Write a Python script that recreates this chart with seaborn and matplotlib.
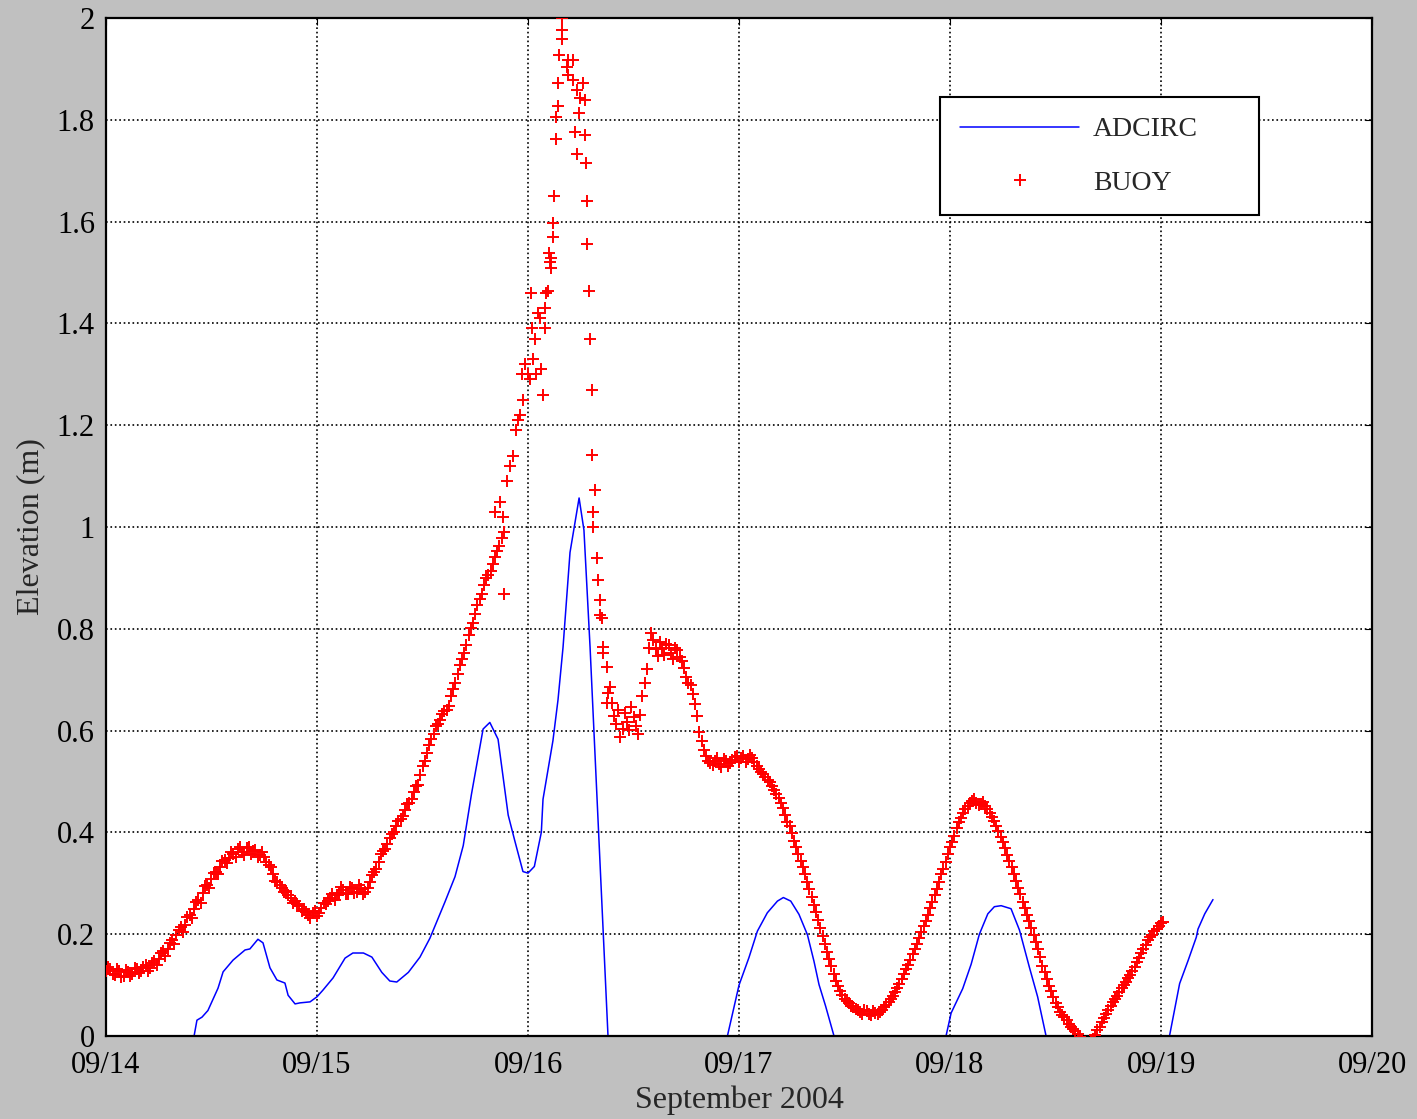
import numpy as np
import pandas as pd
import matplotlib
matplotlib.use('Agg')
import matplotlib.pyplot as plt
import matplotlib.dates as mdates
from matplotlib.lines import Line2D
from matplotlib.ticker import FuncFormatter
import seaborn as sns

start = pd.Timestamp('2004-09-14')

# ADCIRC model, time in days after 09/14 00:00
adcirc_day = [0.40, 0.431, 0.455, 0.483, 0.531, 0.555, 0.602, 0.659, 0.682, 0.720,
              0.744, 0.777, 0.810, 0.848, 0.863, 0.896, 0.919, 0.967, 1.0, 1.028,
              1.076, 1.133, 1.17, 1.22, 1.26, 1.307, 1.345, 1.378, 1.433, 1.488,
              1.535, 1.606, 1.654, 1.693, 1.732, 1.787, 1.819, 1.858, 1.906, 1.937,
              1.976, 2.0, 2.03, 2.063, 2.071, 2.118, 2.142, 2.166, 2.199, 2.242,
              2.265, 2.294, 2.379, 2.42, 2.55, 2.7, 2.85, 2.945, 3.0, 3.047,
              3.087, 3.134, 3.182, 3.21, 3.245, 3.284, 3.324, 3.355, 3.379, 3.41,
              3.45, 3.55, 3.7, 3.85, 3.981, 4.005, 4.06, 4.1, 4.139, 4.179,
              4.21, 4.242, 4.289, 4.329, 4.376, 4.415, 4.455, 4.6, 4.8, 4.95,
              5.04, 5.088, 5.128, 5.167, 5.175, 5.207, 5.246]
adcirc_elev = [-0.04, 0.031, 0.037, 0.05, 0.094, 0.126, 0.149, 0.169, 0.171, 0.19,
               0.183, 0.134, 0.11, 0.104, 0.08, 0.063, 0.065, 0.067, 0.077, 0.09,
               0.114, 0.153, 0.163, 0.163, 0.155, 0.125, 0.108, 0.106, 0.125, 0.155,
               0.192, 0.263, 0.313, 0.374, 0.475, 0.603, 0.616, 0.583, 0.434, 0.384,
               0.323, 0.32, 0.333, 0.40, 0.465, 0.58, 0.66, 0.764, 0.95, 1.057,
               0.994, 0.764, 0.0, -0.15, -0.32, -0.35, -0.2, 0.0, 0.10, 0.154,
               0.206, 0.242, 0.265, 0.272, 0.265, 0.239, 0.199, 0.147, 0.101, 0.059,
               0.0, -0.2, -0.3, -0.2, 0.0, 0.045, 0.093, 0.141, 0.2, 0.24,
               0.254, 0.256, 0.25, 0.208, 0.135, 0.077, 0.0, -0.25, -0.25, -0.08,
               0.0, 0.103, 0.148, 0.194, 0.21, 0.24, 0.268]

# BUOY, every 30 min starting 09/13 23:30
buoy_a_elev = [0.138, 0.128, 0.131, 0.119, 0.127, 0.118, 0.126, 0.121, 0.132, 0.127,
               0.139, 0.134, 0.148, 0.151, 0.166, 0.171, 0.188, 0.198, 0.214, 0.219,
               0.238, 0.249, 0.268, 0.281, 0.296, 0.308, 0.322, 0.331, 0.346, 0.349,
               0.358, 0.367, 0.361, 0.369, 0.358, 0.366, 0.355, 0.351, 0.336, 0.318,
               0.302, 0.291, 0.284, 0.272, 0.266, 0.255, 0.249, 0.238, 0.242, 0.236,
               0.251, 0.259, 0.272, 0.268, 0.281, 0.286, 0.279, 0.291, 0.283, 0.289,
               0.282, 0.302, 0.322, 0.341, 0.364, 0.377, 0.396, 0.412, 0.427, 0.443,
               0.458, 0.479, 0.493, 0.531, 0.556, 0.583, 0.609, 0.621, 0.638, 0.648,
               0.681, 0.712, 0.741, 0.768, 0.801, 0.829, 0.858, 0.887, 0.906, 0.928,
               0.952, 0.978]
# BUOY, every 30 min starting 09/13 23:45
buoy_a2_elev = [0.124, 0.135, 0.122, 0.131, 0.116, 0.129, 0.117, 0.134, 0.124, 0.136,
                0.128, 0.143, 0.139, 0.163, 0.158, 0.183, 0.181, 0.209, 0.204, 0.233,
                0.231, 0.263, 0.262, 0.294, 0.291, 0.321, 0.318, 0.344, 0.339, 0.361,
                0.352, 0.371, 0.356, 0.372, 0.363, 0.352, 0.362, 0.341, 0.331, 0.305,
                0.296, 0.282, 0.276, 0.262, 0.259, 0.246, 0.243, 0.231, 0.245, 0.242,
                0.262, 0.266, 0.279, 0.276, 0.292, 0.278, 0.293, 0.281, 0.296, 0.279,
                0.291, 0.316, 0.329, 0.357, 0.368, 0.389, 0.401, 0.423, 0.432, 0.455,
                0.466, 0.491, 0.512, 0.541, 0.572, 0.594, 0.612, 0.633, 0.641, 0.667,
                0.694, 0.729, 0.752, 0.787, 0.812, 0.846, 0.869, 0.899, 0.913, 0.941,
                0.962, 0.99]

# BUOY around the surge peak, time in days after 09/14 00:00
spike_day = [1.844, 1.867, 1.882, 1.885, 1.9, 1.915, 1.929, 1.943, 1.953, 1.962,
             1.972, 1.976, 1.986, 2.0, 2.009, 2.014, 2.019, 2.024, 2.033, 2.038,
             2.047, 2.057, 2.062, 2.071, 2.081, 2.081, 2.085, 2.095, 2.1, 2.104,
             2.109, 2.109, 2.118, 2.118, 2.123, 2.133, 2.133, 2.142, 2.142, 2.147,
             2.161, 2.161, 2.161, 2.185, 2.19, 2.19, 2.213, 2.213, 2.223, 2.232,
             2.232, 2.242, 2.246, 2.261, 2.27, 2.27, 2.275, 2.28, 2.28, 2.289,
             2.294, 2.303, 2.303, 2.308, 2.308, 2.318, 2.327, 2.332, 2.341, 2.341,
             2.351, 2.355, 2.355, 2.374, 2.374, 2.379, 2.389]
spike_elev = [1.03, 1.05, 1.02, 0.868, 1.09, 1.12, 1.14, 1.19, 1.21, 1.22,
              1.30, 1.25, 1.32, 1.30, 1.29, 1.46, 1.39, 1.33, 1.37, 1.30,
              1.42, 1.41, 1.31, 1.26, 1.39, 1.43, 1.46, 1.464, 1.538, 1.52,
              1.509, 1.528, 1.57, 1.597, 1.65, 1.762, 1.806, 1.827, 1.872, 1.927,
              1.958, 1.976, 2.0, 1.904, 1.917, 1.888, 1.917, 1.878, 1.776, 1.859,
              1.733, 1.813, 1.843, 1.872, 1.839, 1.77, 1.715, 1.641, 1.556, 1.464,
              1.37, 1.27, 1.141, 1.03, 1.0, 1.073, 0.94, 0.896, 0.857, 0.827,
              0.821, 0.764, 0.752, 0.725, 0.654, 0.673, 0.686]

# BUOY, every 30 min starting 09/16 09:30
buoy_b_elev = [0.655, 0.612, 0.588, 0.634, 0.602, 0.626, 0.594, 0.668, 0.721, 0.792,
               0.761, 0.774, 0.748, 0.769, 0.741, 0.758, 0.736, 0.706, 0.689, 0.652,
               0.598, 0.562, 0.541, 0.532, 0.546, 0.529, 0.541, 0.536, 0.548, 0.538,
               0.551, 0.544, 0.546, 0.531, 0.519, 0.508, 0.498, 0.483, 0.468, 0.447,
               0.421, 0.398, 0.371, 0.344, 0.318, 0.289, 0.258, 0.228, 0.196, 0.165,
               0.138, 0.108, 0.089, 0.073, 0.064, 0.056, 0.051, 0.044, 0.049, 0.041,
               0.046, 0.048, 0.057, 0.066, 0.079, 0.094, 0.111, 0.131, 0.149, 0.171,
               0.192, 0.216, 0.238, 0.264, 0.289, 0.318, 0.342, 0.371, 0.392, 0.421,
               0.438, 0.452, 0.461, 0.458, 0.455, 0.451, 0.439, 0.422, 0.402, 0.381,
               0.356, 0.331, 0.304, 0.278, 0.251, 0.226, 0.198, 0.171, 0.138, 0.112,
               0.088, 0.064, 0.048, 0.037, 0.024, 0.013, 0.004, -0.008, -0.015, -0.012,
               0.002, 0.018, 0.036, 0.052, 0.066, 0.079, 0.094, 0.107, 0.119, 0.136,
               0.154, 0.171, 0.188, 0.199, 0.211, 0.221]
# BUOY, every 30 min starting 09/16 09:45
buoy_b2_elev = [0.628, 0.641, 0.603, 0.617, 0.646, 0.609, 0.631, 0.694, 0.763, 0.778,
                0.746, 0.762, 0.771, 0.752, 0.763, 0.744, 0.722, 0.693, 0.671, 0.628,
                0.579, 0.551, 0.537, 0.541, 0.535, 0.544, 0.531, 0.542, 0.551, 0.546,
                0.539, 0.553, 0.539, 0.525, 0.514, 0.503, 0.491, 0.476, 0.458, 0.434,
                0.412, 0.384, 0.358, 0.331, 0.303, 0.274, 0.243, 0.212, 0.181, 0.151,
                0.122, 0.099, 0.081, 0.068, 0.059, 0.053, 0.047, 0.052, 0.044, 0.049,
                0.043, 0.052, 0.061, 0.072, 0.086, 0.102, 0.121, 0.139, 0.161, 0.181,
                0.204, 0.226, 0.251, 0.276, 0.303, 0.329, 0.357, 0.381, 0.408, 0.429,
                0.446, 0.457, 0.466, 0.454, 0.459, 0.446, 0.431, 0.412, 0.391, 0.369,
                0.343, 0.318, 0.291, 0.264, 0.238, 0.212, 0.184, 0.155, 0.125, 0.099,
                0.076, 0.056, 0.042, 0.031, 0.018, 0.009, -0.003, -0.012, -0.014, -0.006,
                0.011, 0.027, 0.044, 0.059, 0.072, 0.087, 0.101, 0.113, 0.128, 0.145,
                0.163, 0.179, 0.194, 0.206, 0.216, 0.224]

adcirc_time = start + pd.to_timedelta(adcirc_day, unit='D')
buoy_time = (list(pd.date_range('2004-09-13 23:30', periods=len(buoy_a_elev), freq='30min'))
             + list(pd.date_range('2004-09-13 23:45', periods=len(buoy_a2_elev), freq='30min'))
             + list(start + pd.to_timedelta(spike_day, unit='D'))
             + list(pd.date_range('2004-09-16 09:30', periods=len(buoy_b_elev), freq='30min'))
             + list(pd.date_range('2004-09-16 09:45', periods=len(buoy_b2_elev), freq='30min')))
buoy_elev = buoy_a_elev + buoy_a2_elev + spike_elev + buoy_b_elev + buoy_b2_elev

sns.set_style('white')
plt.rcParams['font.family'] = ['Liberation Serif', 'DejaVu Serif']

fig = plt.figure(figsize=(14.17, 11.19), dpi=100, facecolor='#c0c0c0')
ax = fig.add_axes([0.0748, 0.0742, 0.8935, 0.9097])
ax.set_facecolor('white')

sns.lineplot(x=adcirc_time, y=adcirc_elev, sort=False, estimator=None,
             color='#0000ff', linewidth=1.1, ax=ax)
sns.scatterplot(x=buoy_time, y=buoy_elev, marker='+', color='#ff0000',
                s=80, linewidth=1.4, ax=ax, zorder=3)

ax.set_xlim(pd.Timestamp('2004-09-14'), pd.Timestamp('2004-09-20'))
ax.set_ylim(0, 2)
ax.set_yticks(np.arange(0, 2.01, 0.2))
ax.yaxis.set_major_formatter(FuncFormatter(lambda v, p: '%g' % round(v, 1)))
ax.xaxis.set_major_locator(mdates.DayLocator())
ax.xaxis.set_major_formatter(mdates.DateFormatter('%m/%d'))

ax.grid(True, color='black', linestyle=':', linewidth=1.2)
ax.tick_params(direction='in', length=5, top=True, right=True, labelsize=22,
               pad=8, colors='black')
ax.tick_params(axis='x', pad=11)
for sp in ax.spines.values():
    sp.set_color('black')
    sp.set_linewidth(1.6)

ax.set_xlabel('September 2004', fontsize=23, labelpad=4)
ax.set_ylabel('Elevation (m)', fontsize=23, labelpad=8)

handles = [Line2D([0], [0], color='#0000ff', lw=1.1),
           Line2D([0], [0], marker='+', color='#ff0000', ls='none', markersize=9, mew=1.4)]
leg = ax.legend(handles, ['ADCIRC', 'BUOY'], loc='upper left',
                bbox_to_anchor=(0.659, 0.808, 0.252, 0.114), mode='expand',
                fontsize=20, frameon=True, fancybox=False, framealpha=1,
                edgecolor='black', handlelength=4.3, handletextpad=0.5,
                labelspacing=1.0, borderpad=0.7, borderaxespad=0)
leg.get_frame().set_linewidth(1.5)

fig.savefig('out.png', dpi=100, facecolor=fig.get_facecolor())
